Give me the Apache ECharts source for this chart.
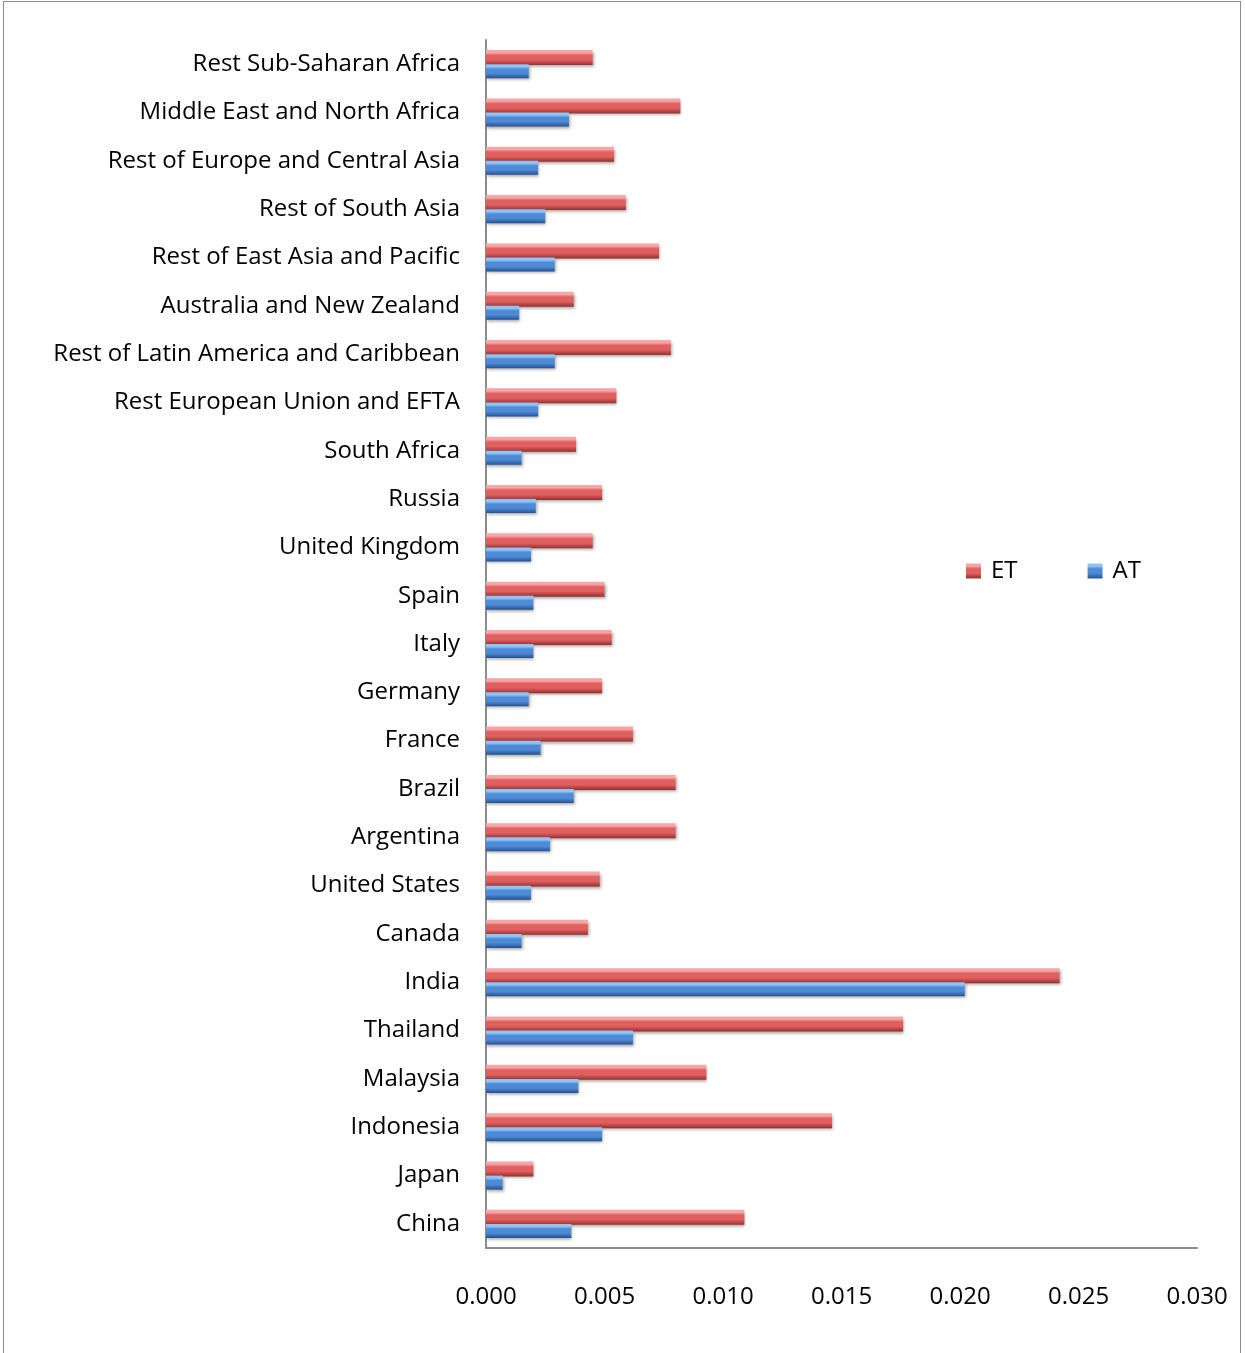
<!DOCTYPE html>
<html>
<head>
<meta charset="utf-8">
<script src="https://cdn.jsdelivr.net/npm/echarts@6/dist/echarts.min.js"></script>
<style>
  html, body { margin: 0; padding: 0; background: #fff; }
  #frame { position: absolute; left: 3px; top: 1px; width: 1238px; height: 1360px; border: 1px solid #8c8c8c; box-sizing: border-box; }
  #chart { position: absolute; left: 0; top: 0; width: 1245px; height: 1353px; }
</style>
</head>
<body>
<div id="frame"></div>
<div id="chart"></div>
<script>
// Regions, listed bottom to top as the category axis draws them
const regions = [
  'China', 'Japan', 'Indonesia', 'Malaysia', 'Thailand', 'India', 'Canada',
  'United States', 'Argentina', 'Brazil', 'France', 'Germany', 'Italy', 'Spain',
  'United Kingdom', 'Russia', 'South Africa', 'Rest European Union and EFTA',
  'Rest of Latin America and Caribbean', 'Australia and New Zealand',
  'Rest of East Asia and Pacific', 'Rest of South Asia',
  'Rest of Europe and Central Asia', 'Middle East and North Africa',
  'Rest Sub-Saharan Africa'
];

const etValues = [
  0.0109, 0.0020, 0.0146, 0.0093, 0.0176, 0.0242, 0.0043,
  0.0048, 0.0080, 0.0080, 0.0062, 0.0049, 0.0053, 0.0050,
  0.0045, 0.0049, 0.0038, 0.0055,
  0.0078, 0.0037,
  0.0073, 0.0059,
  0.0054, 0.0082,
  0.0045
];

const atValues = [
  0.0036, 0.0007, 0.0049, 0.0039, 0.0062, 0.0202, 0.0015,
  0.0019, 0.0027, 0.0037, 0.0023, 0.0018, 0.0020, 0.0020,
  0.0019, 0.0021, 0.0015, 0.0022,
  0.0029, 0.0014,
  0.0029, 0.0025,
  0.0022, 0.0035,
  0.0018
];

const xTicks = { min: 0, max: 0.03, interval: 0.005 };

const FONT = '"Open Sans", "Noto Sans", sans-serif';
const FONT_SIZE = 24;

// Bevelled look: light top edge, solid body, dark lower edge
function shade(light, mid, dark) {
  return new echarts.graphic.LinearGradient(0, 0, 0, 1, [
    { offset: 0, color: light },
    { offset: 0.18, color: light },
    { offset: 0.35, color: mid },
    { offset: 0.65, color: mid },
    { offset: 1, color: dark }
  ]);
}

const redFill = shade('#f7a5a5', '#e06060', '#952f2f');
const blueFill = shade('#8fc4f4', '#4f8ad6', '#25508f');

const chart = echarts.init(document.getElementById('chart'), null, { renderer: 'canvas' });

chart.setOption({
  backgroundColor: 'transparent',
  animation: false,
  grid: { left: 486, right: 48, top: 40, bottom: 105, containLabel: false },
  legend: {
    data: ['ET', 'AT'],
    left: 961,
    top: 554,
    itemWidth: 15,
    itemHeight: 15,
    itemGap: 70,
    icon: 'rect',
    textStyle: { fontFamily: FONT, fontSize: FONT_SIZE, color: '#000', padding: [0, 0, 0, 5] }
  },
  xAxis: {
    type: 'value',
    min: xTicks.min,
    max: xTicks.max,
    interval: xTicks.interval,
    axisLine: { show: true, lineStyle: { color: '#8c8c8c', width: 2 } },
    axisTick: { show: false },
    splitLine: { show: false },
    axisLabel: {
      margin: 37,
      fontFamily: FONT,
      fontSize: FONT_SIZE,
      color: '#000',
      formatter: v => v.toFixed(3)
    }
  },
  yAxis: {
    type: 'category',
    data: regions,
    axisLine: { show: true, lineStyle: { color: '#8c8c8c', width: 2 } },
    axisTick: { show: false },
    axisLabel: {
      margin: 26,
      fontFamily: FONT,
      fontSize: FONT_SIZE,
      color: '#000'
    }
  },
  series: [
    {
      name: 'ET',
      type: 'bar',
      data: etValues,
      barWidth: 15,
      barGap: '-6%',
      itemStyle: {
        color: redFill,
        shadowColor: 'rgba(0,0,0,0.35)',
        shadowBlur: 3,
        shadowOffsetY: 2,
        shadowOffsetX: 1
      }
    },
    {
      name: 'AT',
      type: 'bar',
      data: atValues,
      barWidth: 14,
      itemStyle: {
        color: blueFill,
        shadowColor: 'rgba(0,0,0,0.35)',
        shadowBlur: 3,
        shadowOffsetY: 2,
        shadowOffsetX: 1
      }
    }
  ]
});
</script>
</body>
</html>
